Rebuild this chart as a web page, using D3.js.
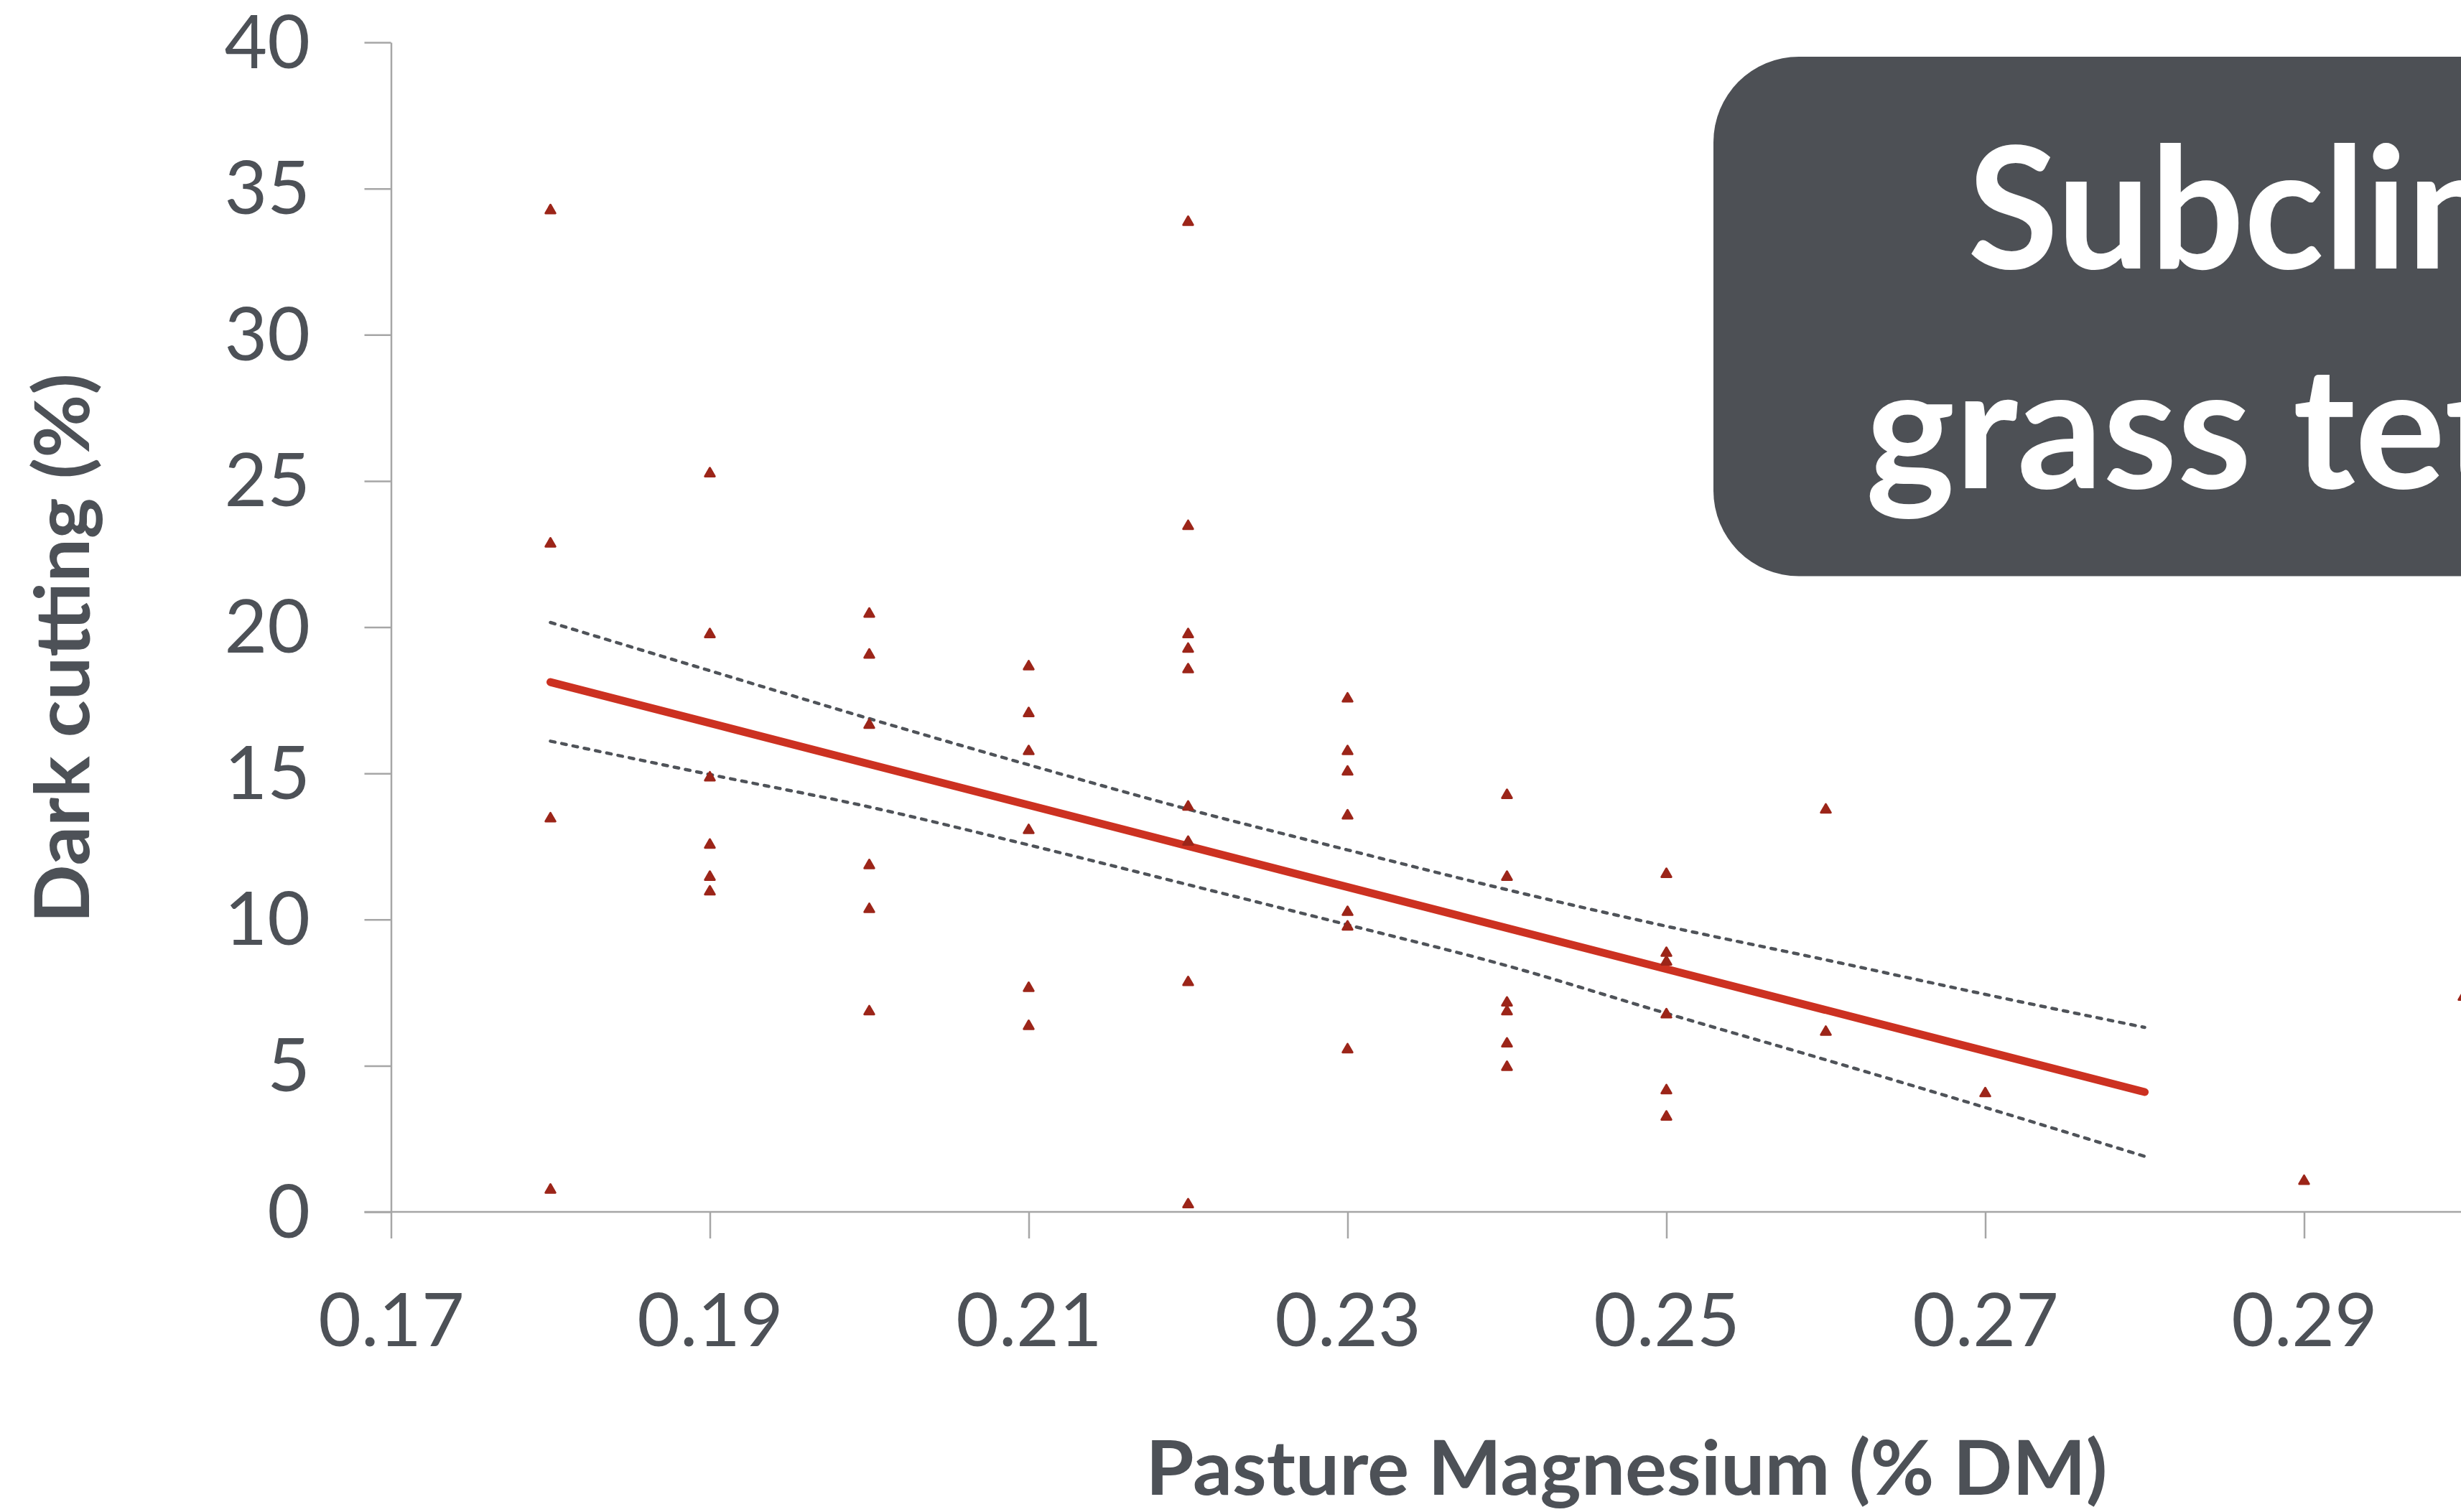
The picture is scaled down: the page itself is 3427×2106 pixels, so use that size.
<!DOCTYPE html>
<html>
<head>
<meta charset="utf-8">
<script src="https://cdn.jsdelivr.net/npm/d3@7"></script>
<style>
  html, body { margin: 0; padding: 0; background: #ffffff; overflow: hidden; }
  svg { display: block; }
</style>
</head>
<body>
<svg id="chart"></svg>
<script>
// Pasture magnesium (% DM) of each observation and its dark-cutting rate (%)
const magnesium = [
  0.18, 0.18, 0.18, 0.18,
  0.19, 0.19, 0.19, 0.19, 0.19, 0.19,
  0.20, 0.20, 0.20, 0.20, 0.20, 0.20,
  0.21, 0.21, 0.21, 0.21, 0.21, 0.21,
  0.22, 0.22, 0.22, 0.22, 0.22, 0.22, 0.22, 0.22, 0.22,
  0.23, 0.23, 0.23, 0.23, 0.23, 0.23, 0.23,
  0.24, 0.24, 0.24, 0.24, 0.24, 0.24,
  0.25, 0.25, 0.25, 0.25, 0.25, 0.25,
  0.26, 0.26,
  0.27,
  0.29,
  0.30
];
const darkCutting = [
  34.3, 22.9, 13.5, 0.8,
  25.3, 19.8, 14.9, 12.6, 11.5, 11.0,
  20.5, 19.1, 16.7, 11.9, 10.4, 6.9,
  18.7, 17.1, 15.8, 13.1, 7.7, 6.4,
  33.9, 23.5, 19.8, 19.3, 18.6, 13.9, 12.7, 7.9, 0.3,
  17.6, 15.8, 15.1, 13.6, 10.3, 9.8, 5.6,
  14.3, 11.5, 7.2, 6.9, 5.8, 5.0,
  11.6, 8.9, 8.6, 6.8, 4.2, 3.3,
  13.8, 6.2,
  4.1,
  1.1,
  7.4
];

// Fitted regression line (end points)
const trendX = [0.18, 0.28];
const trendY = [18.12, 4.10];

// Confidence band around the fit
const bandX     = [0.18, 0.19, 0.20, 0.21, 0.22, 0.23, 0.24, 0.25, 0.26, 0.27, 0.28];
const bandUpper = [20.16, 18.51, 16.87, 15.29, 13.77, 12.38, 11.02, 9.77, 8.62, 7.44, 6.31];
const bandLower = [16.10, 14.96, 13.85, 12.55, 11.19, 9.82, 8.42, 6.79, 5.20, 3.57, 1.90];

// Axis ticks and labels
const xTicks = [0.17, 0.19, 0.21, 0.23, 0.25, 0.27, 0.29];
const yTicks = [0, 5, 10, 15, 20, 25, 30, 35, 40];
const xTitle = "Pasture Magnesium (% DM)";
const yTitle = "Dark cutting (%)";
const boxLines = ["Subclinical", "grass tetany"];

const W = 3427, H = 2106;
const textColor = "#4d5157";
const axisColor = "#a6a6a6";
const markerColor = "#9c2519";
const trendColor = "#cc3121";
const bandColor = "#4f5359";
const boxColor = "#4d5055";
const font = "Lato, 'Open Sans', 'DejaVu Sans', sans-serif";

const svg = d3.select("#chart").attr("width", W).attr("height", H);
svg.append("rect").attr("width", W).attr("height", H).attr("fill", "#ffffff");

const x = d3.scaleLinear().domain([0.17, 0.31]).range([544.5, 544.5 + 0.14 * 22200]);
const y = d3.scaleLinear().domain([0, 40]).range([1688, 59]);

// ---- axes ----
const tickLen = 37;

const xAxisG = svg.append("g")
  .attr("transform", `translate(0,${y(0)})`)
  .call(d3.axisBottom(x).tickValues(xTicks).tickSize(tickLen).tickSizeOuter(0)
        .tickFormat(d3.format(".2f")));

const yAxisG = svg.append("g")
  .attr("transform", `translate(${x(0.17)},0)`)
  .call(d3.axisLeft(y).tickValues(yTicks).tickSize(tickLen).tickSizeOuter(0)
        .tickFormat(d3.format("d")));

[xAxisG, yAxisG].forEach(g => {
  g.select(".domain").attr("stroke", axisColor).attr("stroke-width", 2.5);
  g.selectAll(".tick line").attr("stroke", axisColor).attr("stroke-width", 2.5);
  g.selectAll(".tick text")
    .attr("fill", textColor)
    .style("font-family", font)
    .style("font-size", "103px");
});

// extend the x axis line to the left so it meets the zero tick
xAxisG.select(".domain").attr("d", `M${x(0.17) - tickLen},0H${x(0.31)}`);

xAxisG.selectAll(".tick text")
  .attr("y", 187).attr("dy", null)
  .attr("text-anchor", "middle");

yAxisG.selectAll(".tick text")
  .attr("x", 432 - x(0.17)).attr("dy", null).attr("y", 35)
  .attr("text-anchor", "end");

// ---- axis titles ----
svg.append("text")
  .attr("x", 2265).attr("y", 2082)
  .attr("text-anchor", "middle")
  .attr("fill", textColor)
  .style("font-family", font).style("font-weight", 700).style("font-size", "105px")
  .attr("textLength", 1339).attr("lengthAdjust", "spacingAndGlyphs")
  .text(xTitle);

svg.append("text")
  .attr("transform", "translate(124,903) rotate(-90)")
  .attr("text-anchor", "middle")
  .attr("fill", textColor)
  .style("font-family", font).style("font-weight", 700).style("font-size", "105px")
  .attr("textLength", 766).attr("lengthAdjust", "spacingAndGlyphs")
  .text(yTitle);

// ---- confidence band (dashed) ----
const bandLine = d3.line().curve(d3.curveMonotoneX).x(d => x(d[0])).y(d => y(d[1]));
[bandUpper, bandLower].forEach(vals => {
  svg.append("path")
    .datum(bandX.map((v, i) => [v, vals[i]]))
    .attr("d", bandLine)
    .attr("fill", "none")
    .attr("stroke", bandColor)
    .attr("stroke-width", 4.5)
    .attr("stroke-linecap", "round")
    .attr("stroke-dasharray", "6.5 9.5");
});

// ---- regression line ----
svg.append("path")
  .datum(trendX.map((v, i) => [v, trendY[i]]))
  .attr("d", d3.line().x(d => x(d[0])).y(d => y(d[1])))
  .attr("fill", "none")
  .attr("stroke", trendColor)
  .attr("stroke-width", 11)
  .attr("stroke-linecap", "round");

// ---- observations ----
const triSize = 78;
const triH = Math.sqrt(triSize * 4 / Math.sqrt(3)) * Math.sqrt(3) / 2;
svg.append("g")
  .selectAll("path")
  .data(magnesium.map((m, i) => ({ m, v: darkCutting[i] })))
  .join("path")
  .attr("d", d3.symbol(d3.symbolTriangle, triSize))
  .attr("transform", d => `translate(${x(d.m)},${y(d.v) + triH / 6})`)
  .attr("fill", markerColor)
  .attr("stroke", markerColor)
  .attr("stroke-width", 3)
  .attr("stroke-linejoin", "round");

// ---- title box ----
svg.append("rect")
  .attr("x", 2386).attr("y", 79)
  .attr("width", 1400).attr("height", 723.5)
  .attr("rx", 119).attr("ry", 119)
  .attr("fill", boxColor);

const boxSpecs = [
  { text: boxLines[0], x: 2740, y: 374, prefix: 6, target: 612 },
  { text: boxLines[1], x: 2598, y: 680, prefix: 8, target: 806 }
];
boxSpecs.forEach(s => {
  const g = svg.append("g").attr("transform", `translate(${s.x},${s.y})`);
  const t = g.append("text")
    .attr("fill", "#ffffff")
    .style("font-family", font).style("font-weight", 700).style("font-size", "236px")
    .text(s.text);
  const w = t.node().getSubStringLength(0, s.prefix);
  const sx = w > 0 ? s.target / w : 1;
  g.attr("transform", `translate(${s.x},${s.y}) scale(${sx},1)`);
});
</script>
</body>
</html>
